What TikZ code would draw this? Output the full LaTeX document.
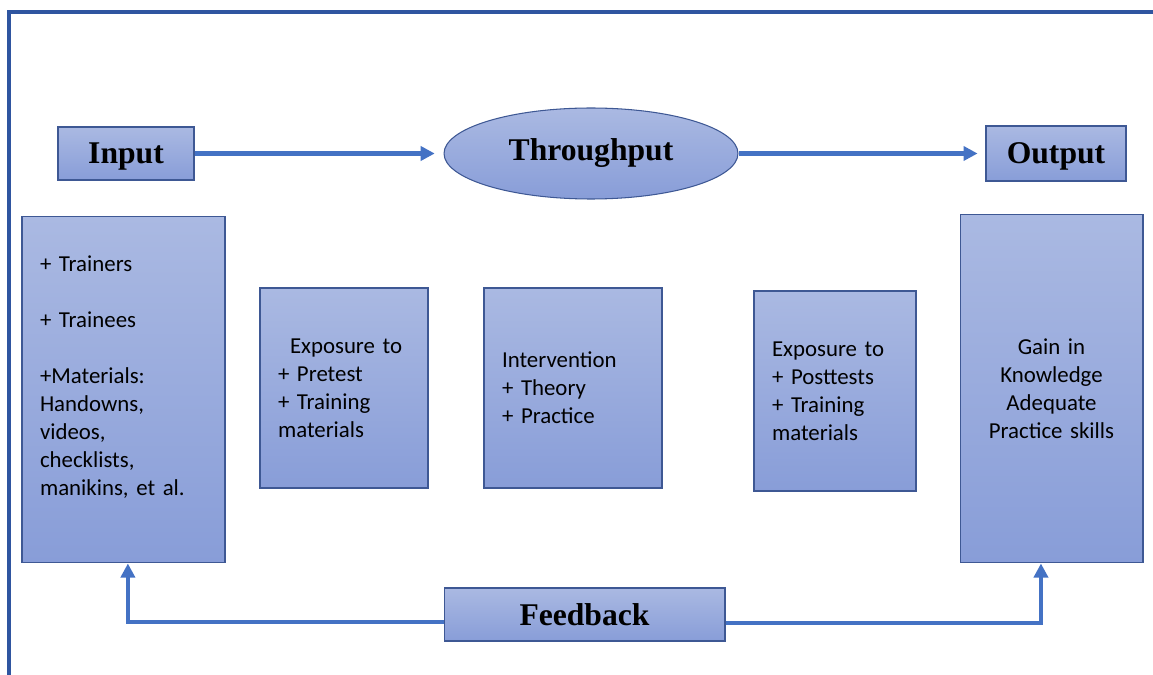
\documentclass[tikz,border=0pt]{standalone}
\usepackage{fontspec}
\setmainfont{Carlito}
\newfontfamily\headfont{Liberation Serif}
\usetikzlibrary{arrows.meta,shapes.geometric,positioning}

\definecolor{boxtop}{RGB}{170,185,226}
\definecolor{boxbot}{RGB}{136,157,216}
\definecolor{boxline}{RGB}{62,88,148}
\definecolor{flowblue}{RGB}{68,114,196}
\definecolor{frameblue}{RGB}{47,85,160}

\begin{document}
\begin{tikzpicture}[x=0.02cm,y=-0.02cm,
  blok/.style={draw=boxline,line width=0.6pt,top color=boxtop,bottom color=boxbot,inner sep=0pt},
  headbox/.style={blok,text depth=0pt,font=\headfont\bfseries\fontsize{18pt}{22pt}\selectfont},
  listbox/.style={blok,font=\fontsize{13pt}{15.9pt}\selectfont,inner xsep=0.36cm,align=left},
  flowline/.style={draw=flowblue,line width=2.3pt,-{Triangle[length=8pt,width=8pt]}}]
\useasboundingbox (0,0) rectangle (1153,675);
% 枠
\draw[frameblue,line width=1.8pt] (9,675) -- (9,12) -- (1153,12);

% 入力・処理・出力
\node[headbox,minimum width=2.72cm,minimum height=1.06cm] (input) at (126,153.5) {Input};
\node[headbox,ellipse,text depth=,minimum width=5.88cm,minimum height=1.82cm] (thru) at (591,153.5) {Throughput};
\node[headbox,minimum width=2.8cm,minimum height=1.1cm] (output) at (1056,153.5) {Output};
\node[headbox,minimum width=5.62cm,minimum height=1.06cm] (fb) at (584.5,614.5) {Feedback};

% 各段階の内容
\node[listbox,text width=3.34cm,minimum height=6.94cm] (inbox) at (123.5,389.5)
  {+ Trainers\\[15.9pt]+ Trainees\\[15.9pt]+Materials:\\Handowns,\\videos,\\checklists,\\manikins, et al.\\ \mbox{}};
\node[listbox,text width=2.64cm,minimum height=4cm] (pre) at (344,388)
  {\hspace*{0.24cm}Exposure to\\+ Pretest\\+ Training\\materials};
\node[listbox,text width=2.84cm,minimum height=4cm] (interv) at (573,388)
  {Intervention\\+ Theory\\+ Practice};
\node[listbox,text width=2.52cm,minimum height=4cm] (post) at (835,391)
  {Exposure to\\+ Posttests\\+ Training\\materials};
\node[listbox,align=center,text width=2.94cm,minimum height=6.98cm] (outbox) at (1051.5,388.5)
  {Gain in\\Knowledge\\Adequate\\Practice skills};

% 矢印
\draw[flowline,shorten >=5pt] (input.east) -- (thru.west);
\draw[flowline,shorten >=4.5pt] (thru.east) -- (output.west);
\draw[flowline] ([yshift=-4.2pt]fb.west) -| ([xshift=2.5pt]inbox.south);
\draw[flowline] ([yshift=-4.8pt]fb.east) -| ([xshift=-6pt]outbox.south);
\end{tikzpicture}
\end{document}
